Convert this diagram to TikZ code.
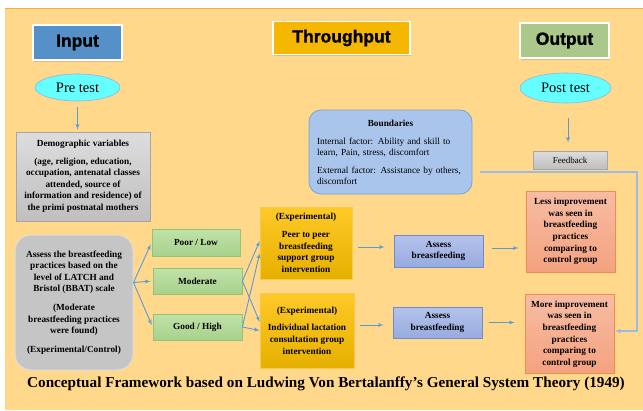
\documentclass[tikz,border=0pt]{standalone}
\usepackage{fontspec}
\setmainfont{Liberation Serif}
\newfontfamily\headfont[BoldFeatures={FakeBold=1.5}]{Liberation Sans}
\usetikzlibrary{arrows,shapes.geometric,shadows}
\definecolor{bgpeach}{HTML}{FFD88C}
\definecolor{bgedge}{HTML}{F2B233}
\definecolor{inputblue}{HTML}{5690C8}
\definecolor{thrugold}{HTML}{F5B700}
\definecolor{outgreen}{HTML}{A9C88A}
\definecolor{ovalcyan}{HTML}{66FFFF}
\definecolor{ovalline}{HTML}{8DB4E2}
\definecolor{greytop}{HTML}{DDDDDD}
\definecolor{greybot}{HTML}{BFBFBF}
\definecolor{greyline}{HTML}{A6A6A6}
\definecolor{boundblue}{HTML}{A9C5EB}
\definecolor{boundline}{HTML}{7AA2D6}
\definecolor{levtop}{HTML}{C0E2A8}
\definecolor{levbot}{HTML}{A8D18D}
\definecolor{levline}{HTML}{92C572}
\definecolor{exptop}{HTML}{FFC928}
\definecolor{expbot}{HTML}{E6B000}
\definecolor{expline}{HTML}{F7C948}
\definecolor{abtop}{HTML}{B4C3EC}
\definecolor{abbot}{HTML}{98ABDF}
\definecolor{abline}{HTML}{6B8CD0}
\definecolor{saltop}{HTML}{F7BCA3}
\definecolor{salbot}{HTML}{F4A27F}
\definecolor{salline}{HTML}{F08C4E}
\definecolor{arrowblue}{HTML}{5B9BD5}
\definecolor{fbblue}{HTML}{9DBBE0}
\begin{document}
\begin{tikzpicture}[x=1pt,y=-1pt,>=latex',
    head/.style={draw=white,line width=1.5pt,minimum width=89pt,minimum height=35pt,
      font=\headfont\fontsize{17.5}{20}\selectfont\bfseries,
      drop shadow={opacity=0.3,shadow xshift=1pt,shadow yshift=-1.5pt}},
    test/.style={ellipse,draw=ovalline,fill=ovalcyan,line width=0.6pt,inner sep=0pt,
      font=\fontsize{14.5}{16}\selectfont},
    txt/.style={font=\fontsize{9.3}{11.6}\selectfont\bfseries,align=center,inner sep=0pt},
    greybox/.style={txt,draw=greyline,top color=greytop,bottom color=greybot,line width=0.6pt},
    levbox/.style={txt,draw=levline,top color=levtop,bottom color=levbot,line width=0.8pt,
      minimum width=89pt,minimum height=26pt},
    expbox/.style={txt,draw=expline,top color=exptop,bottom color=expbot,line width=0.6pt},
    abbox/.style={txt,draw=abline,top color=abtop,bottom color=abbot,line width=0.6pt,
      minimum width=89pt,minimum height=31pt},
    resbox/.style={txt,draw=salline,top color=saltop,bottom color=salbot,line width=0.8pt,
      minimum width=89pt,minimum height=80pt},
    arr/.style={->,draw=arrowblue,line width=0.9pt},
  ]
  \useasboundingbox (0,0) rectangle (643,410);
  % background
  \fill[bgpeach] (5,8) rectangle (643,410);
  \draw[bgedge,line width=1pt] (5,8) -- (643,8);

  % headings
  \node[head,fill=inputblue] (input) at (77.5,42.5) {Input};
  \node[head,fill=thrugold,minimum width=137pt,minimum height=33pt] (through) at (341.5,38) {Throughput};
  \node[head,fill=outgreen] (output) at (564.5,40.5) {Output};

  % tests
  \node[test,minimum width=85pt,minimum height=27pt] (pre) at (77.5,87.5) {Pre test};
  \node[test,minimum width=91pt,minimum height=30pt] (post) at (565.5,88) {Post test};

  % input side
  \node[greybox,minimum width=134pt,minimum height=89pt] (demo) at (83,176.5)
    {Demographic variables\\[5.5pt]
     (age, religion, education,\\ occupation, antenatal classes\\ attended, source of\\
     information and residence) of\\ the primi postnatal mothers};
  \node[txt,draw=greytop,fill=greybot!80!greytop,rounded corners=16pt,line width=1pt,
    minimum width=118pt,minimum height=135pt] (assess) at (74,302.5)
    {Assess the breastfeeding\\ practices based on the\\ level of LATCH and\\ Bristol (BBAT) scale\\[7pt]
     (Moderate\\ breastfeeding practices\\ were found)\\[7pt] (Experimental/Control)};
  \node[levbox,minimum width=88pt,minimum height=27pt] (poor) at (196,242.5) {Poor / Low};
  \node[levbox] (mod) at (197.5,281) {Moderate};
  \node[levbox] (good) at (197.5,327) {Good / High};

  % throughput
  \node[draw=boundline,fill=boundblue,rounded corners=12pt,line width=0.8pt,
    minimum width=163pt,minimum height=84pt,text width=147pt,align=left,inner sep=0pt,
    font=\fontsize{9.3}{11}\selectfont] (bound) at (390.5,152)
    {\makebox[147pt]{\bfseries Boundaries}\\[7pt]
     \mbox{Internal factor: Ability and skill to}\\ learn, Pain, stress, discomfort\\[7pt]
     \mbox{External factor: Assistance by others,}\\ discomfort};
  \node[expbox,minimum width=92pt,minimum height=72pt] (exp1) at (306,243)
    {(Experimental)\\[6pt] Peer to peer\\ breastfeeding\\ support group\\ intervention};
  \node[expbox,minimum width=94pt,minimum height=75pt] (exp2) at (307,330.5)
    {(Experimental)\\[6pt] Individual lactation\\ consultation group\\ intervention};
  \node[abbox,minimum height=32pt] (ab1) at (438.5,251) {Assess\\ breastfeeding};
  \node[abbox] (ab2) at (437.5,322.5) {Assess\\ breastfeeding};

  % output side
  \node[greybox,minimum width=74pt,minimum height=18pt,font=\fontsize{9}{11}\selectfont] (feed) at (570,160) {Feedback};
  \node[resbox,minimum height=81pt] (less) at (570.5,231.5)
    {Less improvement\\ was seen in\\ breastfeeding\\ practices\\ comparing to\\ control group};
  \node[resbox,minimum height=79pt] (more) at (569.5,334)
    {More improvement\\ was seen in\\ breastfeeding\\ practices\\ comparing to\\ control group};

  \node[font=\fontsize{15.2}{17}\selectfont\bfseries] (caption) at (326,384)
    {Conceptual Framework based on Ludwing Von Bertalanffy’s General System Theory (1949)};

  % connectors
  \draw[arr,shorten <=6pt,shorten >=2pt] (pre.south) -- (pre.south |- demo.north);
  \draw[arr,shorten <=15pt,shorten >=8pt] ([xshift=2.5pt]post.south) -- ([xshift=2.5pt]post.south |- feed.north);
  \coordinate (fan) at ([yshift=20pt]assess.east);
  \foreach \lev in {poor,mod,good}
    \draw[arr,shorten >=2pt] (fan) -- (\lev.west);
  \draw[arr] (mod.east) -- ([yshift=2pt]exp1.west);
  \draw[arr] (mod.east) -- ([yshift=8.5pt]exp2.west);
  \draw[arr] (good.east) -- ([yshift=-10pt]exp1.west);
  \draw[arr] (good.east) -- (exp2.west);
  \draw[arr,shorten <=6pt,shorten >=9pt] ([yshift=-4pt]exp1.east) -- ([yshift=-4pt]exp1.east -| ab1.west);
  \draw[arr,shorten <=6pt,shorten >=9pt] ([yshift=-2.5pt]ab2.west -| exp2.east) -- ([yshift=-2.5pt]ab2.west);
  \draw[arr,shorten <=9pt,shorten >=7pt] ([yshift=3pt]ab1.east) -- ([yshift=3pt]ab1.east -| less.west);
  \draw[arr,shorten <=7pt,shorten >=10pt] (ab2.east) -- (ab2.east -| more.west);
  % feedback loop
  \coordinate (fbA) at (480,172);
  \coordinate (fbB) at (637,331);
  \draw[->,draw=fbblue,line width=1.2pt] (fbA) -| (fbB) -- (fbB -| more.east);
\end{tikzpicture}
\end{document}
